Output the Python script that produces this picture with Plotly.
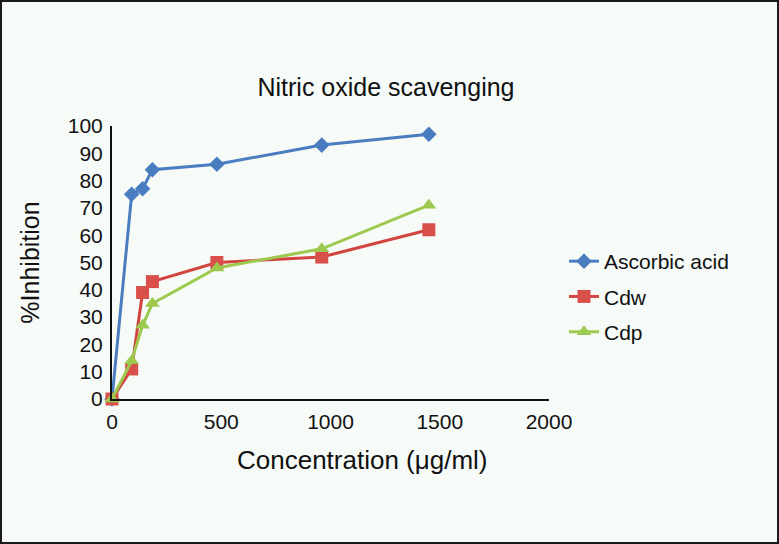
import plotly.graph_objects as go

concentration = [0, 90, 140, 185, 480, 960, 1450]
ascorbic_acid = [0, 75, 77, 84, 86, 93, 97]
cdw = [0, 11, 39, 43, 50, 52, 62]
cdp = [0, 14, 27, 35, 48, 55, 71]

x_ticks = [0, 500, 1000, 1500, 2000]
y_ticks = list(range(0, 101, 10))

W, H = 779, 544
ML, MR, MT, MB = 112, 230, 126, 145

fig = go.Figure()
fig.add_trace(go.Scatter(x=concentration, y=ascorbic_acid, name="Ascorbic acid",
                         mode="lines+markers", cliponaxis=False, legendgroup="a",
                         line=dict(color="#4A7DC0", width=3),
                         marker=dict(symbol="diamond", size=12, color="#4A7DC0")))
fig.add_trace(go.Scatter(x=concentration, y=cdw, name="Cdw",
                         mode="lines+markers", cliponaxis=False, legendgroup="b",
                         line=dict(color="#D2443F", width=3),
                         marker=dict(symbol="square", size=13, color="#D9504A")))
fig.add_trace(go.Scatter(x=concentration, y=cdp, name="Cdp",
                         mode="lines+markers", cliponaxis=False, legendgroup="c",
                         line=dict(color="#9CC94E", width=3),
                         marker=dict(symbol="triangle-up", size=13, color="#9CC94E")))

pw = W - ML - MR
ph = H - MT - MB
def px2paper_x(p):
    return (p - ML) / pw
def px2paper_y(p):
    return (H - MB - p) / ph

fig.add_shape(type="rect", xref="paper", yref="paper",
              x0=px2paper_x(1), x1=px2paper_x(W - 1),
              y0=px2paper_y(H - 1), y1=px2paper_y(1),
              line=dict(color="#1a1a1a", width=2), layer="below")

fig.add_annotation(text="Concentration (μg/ml)", xref="paper", yref="paper",
                   x=px2paper_x(362), y=px2paper_y(460), xanchor="center",
                   yanchor="middle", showarrow=False, font=dict(size=26, color="#111111"))

fig.update_layout(
    width=W, height=H,
    margin=dict(l=ML, r=MR, t=MT, b=MB),
    paper_bgcolor="#F7FBF8", plot_bgcolor="#F7FBF8",
    font=dict(family="Liberation Sans, Arial, sans-serif", color="#111111"),
    title=dict(text="Nitric oxide scavenging", x=px2paper_x(386), xref="paper",
               xanchor="center", y=1 - 87 / H, yanchor="middle",
               font=dict(size=25, color="#111111")),
    showlegend=True,
    legend=dict(x=px2paper_x(564), xanchor="left", y=px2paper_y(241), yanchor="top",
                font=dict(size=21), bgcolor="rgba(0,0,0,0)",
                tracegroupgap=5, itemwidth=30),
    xaxis=dict(range=[0, 2000], tickvals=x_ticks, ticktext=[str(v) for v in x_ticks],
               showgrid=False, zeroline=False, showline=True, linecolor="#111111",
               linewidth=2, ticks="", tickfont=dict(size=21), ticklabelstandoff=3),
    yaxis=dict(range=[0, 100], tickvals=y_ticks, ticktext=[str(v) for v in y_ticks],
               showgrid=False, zeroline=False, showline=True, linecolor="#111111",
               linewidth=2, ticks="", tickfont=dict(size=21), ticklabelstandoff=3,
               title=dict(text="%Inhibition", font=dict(size=25), standoff=21)),
)

fig.write_html("out.html", config={"displayModeBar": False},
               post_script="document.body.style.margin='0';")
